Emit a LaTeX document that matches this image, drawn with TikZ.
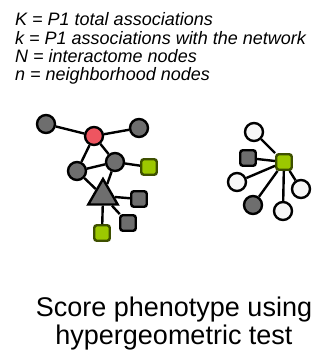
\documentclass[tikz,border=0pt]{standalone}
\usepackage{fontspec}
\setmainfont{Liberation Sans}
\usetikzlibrary{shapes.geometric}
\definecolor{ngray}{HTML}{6E6E6E}
\definecolor{nred}{HTML}{EE5560}
\definecolor{ngreen}{HTML}{9CC800}
\definecolor{nwhite}{HTML}{F6F6F6}
\begin{document}
\begin{tikzpicture}[x=1pt,y=-1pt,
  cnode/.style={circle,draw=black,line width=2.4pt,minimum size=18pt,inner sep=0pt},
  gnode/.style={cnode,fill=ngray},
  rnode/.style={cnode,fill=nred},
  wnode/.style={cnode,fill=nwhite},
  snode/.style={rectangle,rounded corners=2.5pt,draw=black,line width=2.4pt,minimum size=15.5pt,inner sep=0pt},
  sgreen/.style={snode,fill=ngreen,draw=black!60!ngreen},
  sgray/.style={snode,fill=ngray},
  tnode/.style={regular polygon,regular polygon sides=3,draw=black,line width=2.4pt,fill=ngray,minimum size=34pt,inner sep=0pt},
  edge/.style={line width=2.4pt,black},
  lbl/.style={anchor=base west,font=\fontsize{18}{20}\selectfont\itshape,inner sep=0pt},
  ttl/.style={anchor=base,font=\fontsize{27}{29}\selectfont,inner sep=0pt}]
\useasboundingbox (0,0) rectangle (330,360);
\node[lbl] (l1) at (15,25) {K = P1 total associations};
\node[lbl] (l2) at (15,44) {k = P1 associations with the network};
\node[lbl] (l3) at (15,62) {N = interactome nodes};
\node[lbl] (l4) at (15,80) {n = neighborhood nodes};
% left network
\node[gnode] (a) at (46,124) {};
\node[rnode] (r) at (94,136) {};
\node[gnode] (b) at (139,128) {};
\node[gnode] (c) at (115,162) {};
\node[gnode] (d) at (77,171) {};
\node[sgreen] (e) at (149,167) {};
\node[tnode] (t) at (103,196) {};
\node[sgray] (f) at (139,199) {};
\node[sgray] (g) at (128,223) {};
\node[sgreen] (h) at (102,233) {};
\draw[edge] (a) -- (r);
\draw[edge] (r) -- (b);
\draw[edge] (r) -- (d);
\draw[edge] (r) -- (c);
\draw[edge] (d) -- (c);
\draw[edge] (c) -- (e);
\draw[edge] (d) -- (t);
\draw[edge] (c) -- (t);
\draw[edge] (t) -- (f);
\draw[edge] (t) -- (g);
\draw[edge] (t) -- (h);
% right network
\node[sgreen] (m) at (284,162) {};
\node[wnode] (w1) at (254,132) {};
\node[sgray] (s1) at (248,158) {};
\node[wnode] (w2) at (237,182) {};
\node[wnode] (w3) at (301,189) {};
\node[gnode] (g1) at (253,205) {};
\node[wnode] (w4) at (283,211) {};
\draw[edge] (m) -- (w1);
\draw[edge] (m) -- (s1);
\draw[edge] (m) -- (w2);
\draw[edge] (m) -- (w3);
\draw[edge] (m) -- (g1);
\draw[edge] (m) -- (w4);
\node[ttl] (t1) at (174,316) {Score phenotype using};
\node[ttl] (t2) at (174,344) {hypergeometric test};
\end{tikzpicture}
\end{document}
